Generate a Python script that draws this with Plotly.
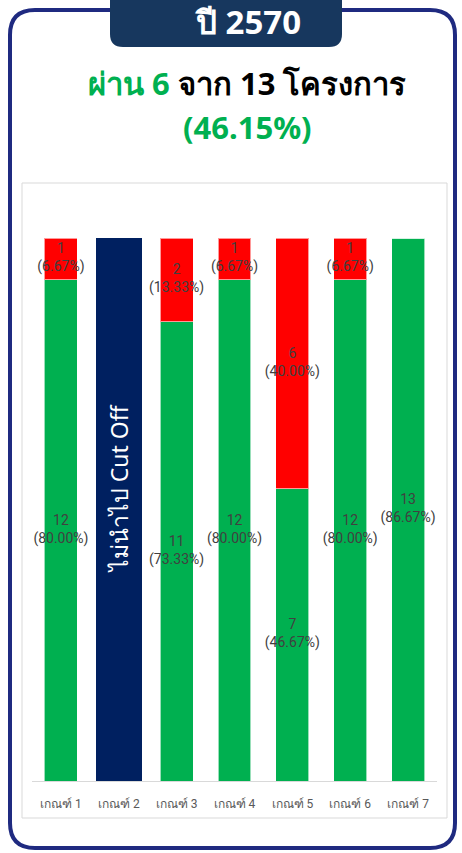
import plotly.graph_objects as go

# ── data ──────────────────────────────────────────────────────────────────────
categories = ["เกณฑ์ 1", "เกณฑ์ 2", "เกณฑ์ 3", "เกณฑ์ 4", "เกณฑ์ 5", "เกณฑ์ 6", "เกณฑ์ 7"]
pass_counts = [12, None, 11, 12, 7, 12, 13]
fail_counts = [1, None, 2, 1, 6, 1, 0]
pass_pct = ["80.00%", "", "73.33%", "80.00%", "46.67%", "80.00%", "86.67%"]
fail_pct = ["6.67%", "", "13.33%", "6.67%", "40.00%", "6.67%", ""]
skip_category = "เกณฑ์ 2"
skip_total = 13
skip_label = "ไม่นำไป Cut Off"
year_label = "ปี 2570"
passed, total, pass_rate = 6, 13, "46.15%"

C_GREEN = "#00B050"
C_RED = "#FF0000"
C_NAVY = "#002060"
C_HEAD = "#17375E"
C_FRAME = "#1F2A80"
C_LABEL = "#404040"
FONT = "Noto Sans, DejaVu Sans, sans-serif"
LABEL_FONT = "Roboto, sans-serif"

W, H = 462, 853
L, R, T, B = 32, 437, 238, 781   # plot area in pixels


def px(x):
    return (x - L) / (R - L)


def py(y):
    return (B - y) / (B - T)


fig = go.Figure()

fig.add_trace(go.Bar(
    x=categories, y=pass_counts, width=0.57, marker=dict(color=C_GREEN, line=dict(color="rgba(255,255,255,0.6)", width=1)),
    hoverinfo="skip", showlegend=False,
))
fig.add_trace(go.Bar(
    x=categories, y=fail_counts, width=0.57, marker=dict(color=C_RED, line=dict(color="rgba(255,255,255,0.6)", width=1)),
    hoverinfo="skip", showlegend=False,
))
fig.add_trace(go.Bar(
    x=[skip_category], y=[skip_total], width=0.8, marker=dict(color=C_NAVY, line=dict(width=0)),
    hoverinfo="skip", showlegend=False,
))

# segment labels
lx, ly, lt = [], [], []
for c, p, f, pp, fp in zip(categories, pass_counts, fail_counts, pass_pct, fail_pct):
    if p:
        lx.append(c); ly.append(p / 2); lt.append(f"{p}<br>({pp})")
    if f:
        lx.append(c); ly.append(p + f / 2); lt.append(f"{f}<br>({fp})")
fig.add_trace(go.Scatter(
    x=lx, y=ly, text=lt, mode="text", textposition="middle center",
    textfont=dict(family=LABEL_FONT, size=14, color=C_LABEL),
    hoverinfo="skip", showlegend=False,
))

fig.add_annotation(
    x=skip_category, y=skip_total / 2, text=skip_label, textangle=-90, showarrow=False,
    yshift=21, font=dict(family=FONT, size=23, color="white"),
)

shapes = []
# outer rounded frame
r = 25
x0, x1, y0, y1 = px(10), px(455), py(10), py(848)
rx, ry = r / (R - L), r / (B - T)
shapes.append(dict(
    type="path", xref="paper", yref="paper", line=dict(color=C_FRAME, width=4),
    path=(f"M {x0 + rx} {y0} L {x1 - rx} {y0} Q {x1} {y0} {x1} {y0 - ry} "
          f"L {x1} {y1 + ry} Q {x1} {y1} {x1 - rx} {y1} L {x0 + rx} {y1} "
          f"Q {x0} {y1} {x0} {y1 + ry} L {x0} {y0 - ry} Q {x0} {y0} {x0 + rx} {y0} Z"),
))
# header tab
r = 13
hx0, hx1, hy0, hy1 = px(110), px(342), py(-5), py(47)
rx, ry = r / (R - L), r / (B - T)
shapes.append(dict(
    type="path", xref="paper", yref="paper", fillcolor=C_HEAD, line=dict(width=0),
    path=(f"M {hx0} {hy0} L {hx1} {hy0} L {hx1} {hy1 + ry} Q {hx1} {hy1} {hx1 - rx} {hy1} "
          f"L {hx0 + rx} {hy1} Q {hx0} {hy1} {hx0} {hy1 + ry} Z"),
))
# chart box
shapes.append(dict(
    type="rect", xref="paper", yref="paper", x0=px(22), x1=px(447), y0=py(183), y1=py(818),
    line=dict(color="#D9D9D9", width=1), layer="below",
))

head = dict(xref="paper", yref="paper", xanchor="center", yanchor="middle", showarrow=False)
annotations = [
    dict(head, x=px(248), y=py(21), text=f"<b>{year_label}</b>",
         font=dict(family=FONT, size=33, color="white")),
    dict(head, x=px(247), y=py(83),
         text=f"<b><span style='color:{C_GREEN}'>ผ่าน {passed}</span> จาก {total} โครงการ</b>",
         font=dict(family=FONT, size=31, color="black")),
    dict(head, x=px(247), y=py(127), text=f"<b>({pass_rate})</b>",
         font=dict(family=FONT, size=31, color=C_GREEN)),
]

fig.update_layout(
    width=W, height=H, barmode="stack",
    paper_bgcolor="white", plot_bgcolor="white",
    margin=dict(l=L, r=W - R, t=T, b=H - B, autoexpand=False),
    shapes=shapes, annotations=list(fig.layout.annotations) + annotations,
    xaxis=dict(showgrid=False, zeroline=False, showline=True, linecolor="#D9D9D9", linewidth=1,
               ticks="", ticklabelstandoff=12,
               tickfont=dict(family="Roboto, sans-serif", size=12, color="#595959"), fixedrange=True),
    yaxis=dict(range=[0, 13], visible=False, fixedrange=True),
    showlegend=False,
)

fig.write_html("out.html", config={"displayModeBar": False},
               post_script="document.body.style.margin='0';document.body.style.overflow='hidden';")
